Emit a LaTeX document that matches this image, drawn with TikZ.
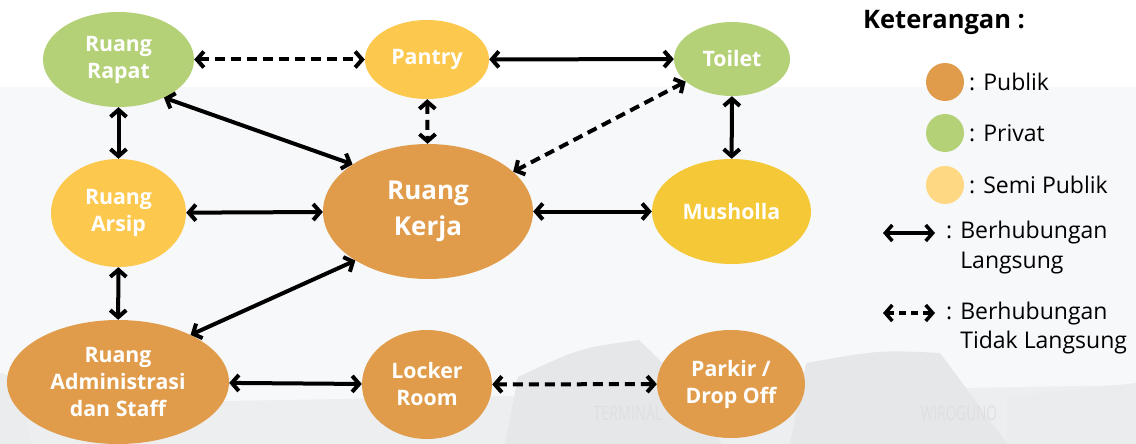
\documentclass[tikz,border=0pt]{standalone}
\usepackage{fontspec}
\setmainfont{Open Sans}
\usetikzlibrary{arrows.meta, shapes.geometric}

\definecolor{publik}{HTML}{E09C4A}
\definecolor{privat}{HTML}{B5D178}
\definecolor{semipublik}{HTML}{FDC84E}
\definecolor{semilegend}{HTML}{FFD883}
\definecolor{musholla}{HTML}{F4C836}
\definecolor{latar}{HTML}{F7F8FA}
\definecolor{gedung}{HTML}{E6E7E9}

\begin{document}
\begin{tikzpicture}[x=1pt, y=-1pt, >={Straight Barb[length=7pt,width=16pt]},
    room/.style={ellipse, inner sep=0pt, text=white, align=center,
        font=\bfseries\fontsize{21.3}{27}\selectfont},
    link/.style={<->, line width=4pt},
    farlink/.style={<->, line width=4pt, dash pattern=on 10pt off 6pt},
    keytext/.style={anchor=west, inner sep=0pt, align=left,
        font=\fontsize{23}{29.5}\selectfont}]

    % Background: white strip on top, pale grey below
    \useasboundingbox (0,0) rectangle (1136,444);
    \fill[white] (0,0) rectangle (1136,87);
    \fill[latar] (0,87) rectangle (1136,444);

    % Faded terminal roofs along the bottom edge
    \fill[gedung!60!latar] (0,405) -- (1136,385) -- (1136,444) -- (0,444) -- cycle;
    \fill[gedung] (518,377) .. controls (580,348) .. (639,340) -- (680,380) -- (722,444) -- (505,444) -- cycle;
    \fill[gedung] (806,363) .. controls (880,350) .. (940,353) -- (975,400) -- (1007,444) -- (790,444) -- cycle;
    \fill[gedung!70!latar] (1007,397) -- (1136,383) -- (1136,444) -- (1007,444) -- cycle;
    \fill[gedung!70!latar] (0,373) -- (20,378) -- (30,444) -- (0,444) -- cycle;
    \node[text=gray!25, font=\fontsize{20}{20}\selectfont, xscale=0.72] (sign1) at (628,413) {TERMINAL};
    \node[text=gray!25, font=\fontsize{20}{20}\selectfont, xscale=0.68] (sign2) at (959,413) {WIROGUNO};

    % Rooms
    \node[room, fill=privat, minimum width=151pt, minimum height=95pt] (rapat) at (118.5,59.5) {Ruang\\Rapat};
    \node[room, fill=semipublik, minimum width=124pt, minimum height=79pt] (pantry) at (427,59.5) {Pantry};
    \node[room, fill=privat, minimum width=116pt, minimum height=74pt] (toilet) at (732,59) {Toilet};
    \node[room, fill=semipublik, minimum width=135pt, minimum height=108pt] (arsip) at (118.5,213) {Ruang\\Arsip};
    \node[room, fill=publik, minimum width=210pt, minimum height=135pt,
        font=\bfseries\fontsize{26}{36}\selectfont] (kerja) at (428,211.5) {Ruang\\Kerja};
    \node[room, fill=musholla, minimum width=159pt, minimum height=105pt] (musholla) at (731.5,211.5) {Musholla};
    \node[room, fill=publik, minimum width=222pt, minimum height=124pt] (admin) at (118,382) {Ruang\\Administrasi\\dan Staff};
    \node[room, fill=publik, minimum width=130pt, minimum height=109pt] (locker) at (427,384.5) {Locker\\Room};
    \node[room, fill=publik, minimum width=148pt, minimum height=108pt] (parkir) at (731,384) {Parkir /\\Drop Off};

    % Direct links
    \draw[link] (pantry) -- (toilet);
    \draw[link] (rapat.-40) -- (kerja.148);
    \draw[link] (rapat) -- (arsip);
    \draw[link] (arsip) -- (kerja);
    \draw[link] (kerja) -- (musholla);
    \draw[link] (toilet) -- (musholla);
    \draw[link] (arsip) -- (admin);
    \draw[link] (admin.33) -- (kerja.214);
    \draw[link] (admin) -- (locker);

    % Indirect links
    \draw[farlink] (rapat) -- (pantry);
    \draw[farlink] (pantry) -- (kerja);
    \draw[farlink] (toilet.206) -- (kerja.25);
    \draw[farlink] (locker) -- (parkir);

    % Legend
    \node[anchor=west, inner sep=0pt, font=\bfseries\fontsize{25.5}{30}\selectfont] (judul) at (863,22) {Keterangan :};
    \foreach \warna/\teks/\y/\nama in {publik/Publik/82/pub, privat/Privat/133/pri, semilegend/Semi Publik/185/semi} {
        \node[circle, fill=\warna, minimum size=38pt, inner sep=0pt] (dot\nama) at (945,\y) {};
        \node[keytext] (ket\nama) at (969,\y) {: \teks};
    }
    \coordinate (lsa) at (883,233);
    \coordinate (lsb) at (935,233);
    \draw[<->, line width=3.5pt] (lsa) -- (lsb);
    \node[keytext] (ketls) at (946,247.5) {: Berhubungan\\\phantom{: }Langsung};
    \coordinate (lta) at (883,313);
    \coordinate (ltb) at (935,313);
    \draw[<->, line width=3.5pt, dash pattern=on 7pt off 5pt] (lta) -- (ltb);
    \node[keytext] (ketlt) at (946,328) {: Berhubungan\\\phantom{: }Tidak Langsung};

\end{tikzpicture}
\end{document}
